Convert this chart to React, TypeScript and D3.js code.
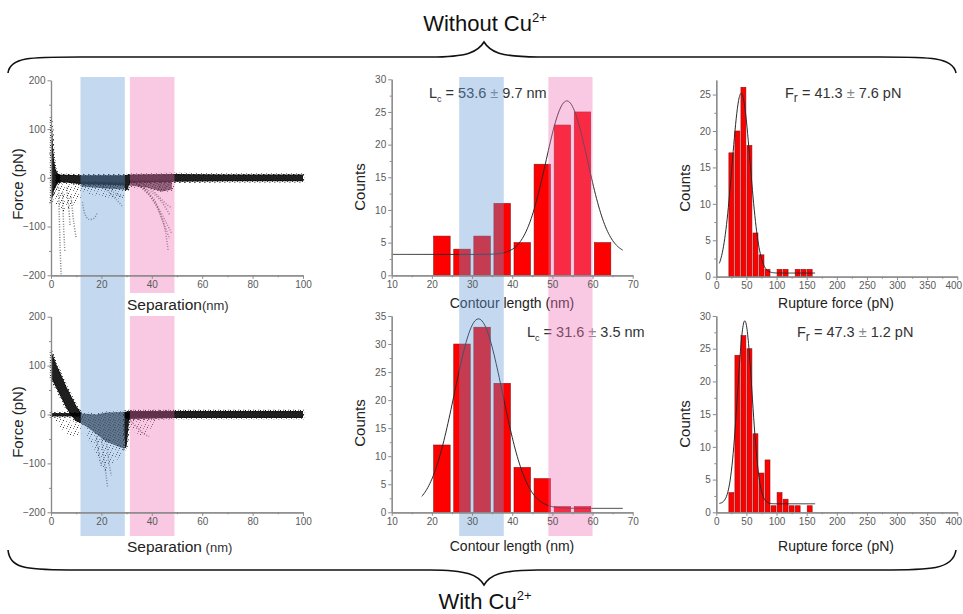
import React, { useEffect, useRef } from 'react';
import * as d3 from 'd3';

type Pt = [number, number];

// contour length histograms (bin starts, nm)
const contourBins = [20, 25, 30, 35, 40, 45, 50, 55, 60];
const contourNoCu = [6, 4, 6, 11, 5, 17, 23, 25, 5];
const contourCu = [12, 30, 33, 23, 8, 6, 1, 1, 0];

// rupture force histograms (bin starts, pN)
const ruptureBins = [20, 30, 40, 50, 60, 70, 80, 90, 100, 110, 120, 130, 140, 150];
const ruptureNoCu = [17, 20, 26, 18, 6, 3, 1, 0, 1, 1, 0, 1, 1, 1];
const ruptureCu = [3, 24, 27, 25, 12, 6, 8, 1, 3, 2, 1, 1, 0, 1];

// gaussian fits: centre, width, height, offset, start, end
const fitContourNoCu = [53.6, 5.2, 23.5, 3.2, 10, 67.5];
const fitContourCu = [31.6, 6, 33.8, 0.7, 17.5, 67.5];
const fitRuptureNoCu = [41.3, 15, 24.7, 0.5, 5, 164];
const fitRuptureCu = [47.3, 12, 28, 1.3, 5, 164];

// shaded windows
const sepBlue = [11.7, 29.3];
const sepPink = [31.3, 49];
const lcBlue = [26.8, 37.9];
const lcPink = [49, 60];

// force curves without Cu (separation nm, force pN)
const noCuDense: Pt[][] = [
  [[0, 125], [0.4, 105], [0.8, 62], [1.2, 36], [1.8, 18], [2.6, 10], [3.5, 6], [3.5, -7], [2.2, -16], [1.2, -26], [0.4, -45], [0, -55]],
  [[2, 7], [12, 5], [29, 5], [31, 7], [49, 8], [70, 7], [100, 7], [100, -7], [70, -7], [49, -8], [31, -10], [30.6, -24], [29.5, -26], [29, -16], [22, -14], [12, -13], [5, -9], [2, -9]],
];
const noCuCloud: Pt[][] = [
  [[12, -8], [29, -10], [29, -24], [22, -22], [12, -18]],
  [[31, -6], [48, -6], [48, -24], [44, -28], [38, -20], [31, -16]],
];
const noCuSparse: Pt[][] = [
  [[1, -8], [12, -10], [12, -42], [9, -55], [5, -70], [2, -55], [1, -30]],
  [[12, -10], [29, -14], [29, -48], [24, -42], [20, -38], [16, -35], [12, -30]],
  [[31, -8], [49, -6], [49, -28], [45, -32], [40, -24], [35, -22], [31, -20]],
];
const noCuTraces: Pt[][] = [
  [[3, -20], [3.3, -80], [3.6, -140], [4, -198]],
  [[4.6, -30], [5, -100], [5.5, -150]],
  [[6.2, -20], [7, -60], [7.6, -100]],
  [[8, -40], [9, -90], [10, -125]],
  [[12.5, -50], [13.5, -75], [15, -85], [17, -83], [18.5, -70]],
  [[18, -10], [22, -25], [26, -45], [28.5, -60]],
  [[20, -8], [25, -30], [28.5, -40]],
  [[31, -5], [36, -12], [40, -25], [43, -40], [46, -55], [48, -62]],
  [[32, -8], [37, -22], [41, -45], [43, -70], [45, -100], [46.5, -150]],
  [[33, -10], [38, -30], [42, -60], [44.5, -90], [47, -125]],
  [[34, -12], [39, -35], [43, -65], [46, -95], [48, -115]],
  [[35, -15], [40, -30], [44, -50], [47, -75]],
];

// force curves with Cu
const cuDense: Pt[][] = [
  [[0, 130], [1, 118], [2, 104], [4, 82], [6, 58], [8, 38], [10, 18], [12, 3], [12, -18], [10, -14], [8, -2], [6, 14], [4, 35], [2, 55], [0, 75]],
  [[0, 3], [12, 3], [12, -4], [0, -4]],
  [[29, 5], [31, 7], [49, 7], [70, 7], [100, 7], [100, -7], [70, -7], [49, -7], [31, -9], [29, -6]],
  [[29, 4], [31, 4], [31, -10], [30.5, -40], [30, -66], [29.2, -70], [29, -40]],
];
const cuCloud: Pt[][] = [
  [[12, 2], [18, 0], [22, 4], [29, 5], [29, -70], [27, -66], [24, -60], [21, -52], [18, -40], [15, -28], [12, -18]],
  [[31, 6], [49, 6], [49, -6], [31, -6]],
];
const cuSparse: Pt[][] = [
  [[2, -5], [12, -18], [12, -40], [8, -45], [4, -30], [2, -18]],
  [[14, -28], [29, -68], [27, -90], [24, -100], [22, -120], [20, -105], [17, -70], [14, -45]],
  [[31, -6], [42, -8], [40, -30], [36, -44], [33, -36], [31, -20]],
];
const cuTraces: Pt[][] = [
  [[20, -50], [21, -90], [22, -130], [22.5, -150]],
  [[22, -50], [23, -100], [24, -125]],
  [[18, -45], [19, -80], [20, -105]],
  [[31, -10], [34, -25], [37, -40], [39, -45]],
];

const W = 963;
const H = 614;
const FONT = 'Arial, "Liberation Sans", sans-serif';
const BLUE = 'rgba(100,155,215,0.38)';
const PINK = 'rgba(240,110,180,0.38)';

const range = (a, b, s) => d3.range(a, b + s / 2, s);

function drawAxes(g, x, y, xMaj, xMin, yMaj, yMin) {
  const y0 = y.range()[0];
  const x0 = x.range()[0];
  const style = (s) => {
    s.select('.domain').attr('stroke', '#8a8a8a').attr('stroke-width', 1.2);
    s.selectAll('line').attr('stroke', '#8a8a8a');
    s.selectAll('text').attr('fill', '#5a5a5a').attr('font-size', 10).attr('font-family', FONT);
  };
  g.append('g').attr('transform', `translate(0,${y0})`)
    .call(d3.axisBottom(x).tickValues(xMin).tickSize(2).tickSizeOuter(0).tickFormat(() => ''))
    .call(style);
  const xa = g.append('g').attr('transform', `translate(0,${y0})`)
    .call(d3.axisBottom(x).tickValues(xMaj).tickSize(3.5).tickSizeOuter(0).tickPadding(2))
    .call(style);
  // keep the right-most label inside the page
  xa.selectAll('.tick text').filter(function () {
    return x.range()[1] > 950 && this.textContent === String(x.domain()[1]);
  }).attr('dx', -4);
  g.append('g').attr('transform', `translate(${x0},0)`)
    .call(d3.axisLeft(y).tickValues(yMin).tickSize(2).tickSizeOuter(0).tickFormat(() => ''))
    .call(style);
  g.append('g').attr('transform', `translate(${x0},0)`)
    .call(d3.axisLeft(y).tickValues(yMaj).tickSize(3.5).tickSizeOuter(0).tickPadding(2))
    .call(style);
}

function drawBands(g, x, bands, top, bottom) {
  bands.forEach(([b, color]) => {
    g.append('rect')
      .attr('x', x(b[0])).attr('width', x(b[1]) - x(b[0]))
      .attr('y', top).attr('height', bottom - top)
      .attr('fill', color);
  });
}

function forceCurves(g, x, y, dense, cloud, sparse, traces) {
  const closed = d3.line<Pt>().x(d => x(d[0])).y(d => y(d[1])).curve(d3.curveLinearClosed);
  const open = d3.line<Pt>().x(d => x(d[0])).y(d => y(d[1])).curve(d3.curveCatmullRom);
  g.append('g').selectAll('path').data(sparse).join('path')
    .attr('d', closed).attr('fill', 'url(#speckle)');
  g.append('g').selectAll('path').data(traces).join('path')
    .attr('d', open).attr('fill', 'none').attr('stroke', '#000')
    .attr('stroke-width', 1.5).attr('stroke-dasharray', '1 1.6').attr('opacity', 0.5);
  const cl = g.append('g').selectAll('g').data(cloud).join('g');
  cl.append('path').attr('d', closed).attr('fill', '#000').attr('fill-opacity', 0.62)
    .attr('stroke', 'url(#speckle)').attr('stroke-width', 3);
  cl.append('path').attr('d', closed).attr('fill', 'url(#speckleDense)').attr('opacity', 0.6);
  g.append('g').selectAll('path').data(dense).join('path')
    .attr('d', closed).attr('fill', '#000').attr('fill-opacity', 0.88)
    .attr('stroke', 'url(#speckleDense)').attr('stroke-width', 2.5);
}

function histogram(g, x, y, bins, counts, binW) {
  g.append('g').selectAll('rect').data(bins).join('rect')
    .attr('x', (d) => x(d + binW * 0.09))
    .attr('width', (d) => x(d + binW * 0.91) - x(d + binW * 0.09))
    .attr('y', (d, i) => y(counts[i]))
    .attr('height', (d, i) => y(0) - y(counts[i]))
    .attr('fill', '#ff0000')
    .attr('stroke', '#8b1010').attr('stroke-width', 0.6)
    .attr('display', (d, i) => (counts[i] > 0 ? null : 'none'));
}

function fitCurve(g, x, y, fit, step) {
  const [c, w, a, b, from, to] = fit;
  const pts = d3.range(from, to + step / 2, step).map(v => [v, b + a * Math.exp(-((v - c) ** 2) / (2 * w * w))]);
  g.append('path')
    .attr('d', d3.line().x(d => x(d[0])).y(d => y(d[1])).curve(d3.curveBasis)(pts))
    .attr('fill', 'none').attr('stroke', '#2a2a2a').attr('stroke-width', 1);
}

function fitLabel(g, px, py, sym, sub, value) {
  const t = g.append('text').attr('x', px).attr('y', py)
    .attr('font-family', FONT).attr('font-size', 14.5).attr('fill', '#333');
  t.append('tspan').text(sym);
  t.append('tspan').attr('font-size', sub === 'c' ? 9 : 12).attr('dy', 4).text(sub);
  t.append('tspan').attr('dy', -4).text(` = ${value[0]} `);
  t.append('tspan').attr('fill', '#888').text('±');
  t.append('tspan').text(` ${value[1]} ${value[2]}`);
}

function vLabel(g, px, py, text, size) {
  g.append('text').attr('transform', `translate(${px},${py}) rotate(-90)`)
    .attr('text-anchor', 'middle').attr('font-family', FONT).attr('font-size', size)
    .attr('fill', '#222').text(text);
}

function hLabel(g, px, py, text, size) {
  g.append('text').attr('x', px).attr('y', py).attr('text-anchor', 'middle')
    .attr('font-family', FONT).attr('font-size', size).attr('fill', '#222').text(text);
}

function dotPattern(defs, id, size, dots) {
  const p = defs.append('pattern').attr('id', id)
    .attr('width', size).attr('height', size).attr('patternUnits', 'userSpaceOnUse');
  dots.forEach(([dx, dy, o]) => {
    p.append('rect').attr('x', dx).attr('y', dy).attr('width', 1).attr('height', 1)
      .attr('fill', '#000').attr('opacity', o);
  });
}

function draw(svg) {
  const defs = svg.append('defs');
  dotPattern(defs, 'speckle', 7, [[0, 0, 0.8], [3, 1, 0.5], [5, 4, 0.7], [1, 5, 0.45], [4, 6, 0.6], [6, 2, 0.35]]);
  dotPattern(defs, 'speckleDense', 5, [[0, 0, 0.9], [2, 1, 0.7], [4, 2, 0.8], [1, 3, 0.6], [3, 4, 0.85], [0, 2, 0.5], [3, 0, 0.5], [4, 4, 0.4]]);

  svg.append('rect').attr('width', W).attr('height', H).attr('fill', '#fff');

  // ---------- separation panels ----------
  const sx = d3.scaleLinear().domain([0, 100]).range([51, 303]);
  const syTop = d3.scaleLinear().domain([-200, 200]).range([275.3, 80.3]);
  const syBot = d3.scaleLinear().domain([-200, 200]).range([512.3, 316.7]);

  const gL = svg.append('g');
  forceCurves(gL, sx, syTop, noCuDense, noCuCloud, noCuSparse, noCuTraces);
  forceCurves(gL, sx, syBot, cuDense, cuCloud, cuSparse, cuTraces);
  drawBands(gL, sx, [[sepBlue, BLUE], [sepPink, PINK]], 77, 536);
  drawAxes(gL, sx, syTop, range(0, 100, 20), range(10, 90, 20), range(-200, 200, 100), range(-150, 150, 100));
  drawAxes(gL, sx, syBot, range(0, 100, 20), range(10, 90, 20), range(-200, 200, 100), range(-150, 150, 100));
  vLabel(gL, 23, 184, 'Force (pN)', 15);
  vLabel(gL, 23, 422, 'Force (pN)', 15);

  [310, 552].forEach((yy, i) => {
    if (i === 0) gL.append('rect').attr('x', 126).attr('y', 293).attr('width', 120).attr('height', 23).attr('fill', '#fff');
    const t = gL.append('text').attr('x', 127).attr('y', yy).attr('font-family', FONT).attr('fill', '#222');
    t.append('tspan').attr('font-size', 15.5).text('Separation');
    t.append('tspan').attr('font-size', 13).attr('fill', '#333').text(i === 0 ? '(nm)' : ' (nm)');
  });

  // ---------- contour length panels ----------
  const cx = d3.scaleLinear().domain([10, 70]).range([391.7, 632.7]);
  const cyTop = d3.scaleLinear().domain([0, 30]).range([275.3, 79.3]);
  const cyBot = d3.scaleLinear().domain([0, 35]).range([512.3, 316]);

  const gM = svg.append('g');
  histogram(gM, cx, cyTop, contourBins, contourNoCu, 5);
  histogram(gM, cx, cyBot, contourBins, contourCu, 5);
  fitCurve(gM, cx, cyTop, fitContourNoCu, 0.25);
  fitCurve(gM, cx, cyBot, fitContourCu, 0.25);
  fitLabel(gM, 429, 98, 'L', 'c', ['53.6', '9.7', 'nm']);
  fitLabel(gM, 527, 337, 'L', 'c', ['31.6', '3.5', 'nm']);
  hLabel(gM, 512, 308, 'Contour length (nm)', 14);
  hLabel(gM, 512, 551, 'Contour length (nm)', 14);
  drawBands(gM, cx, [[lcBlue, BLUE], [lcPink, PINK]], 77, 536);
  drawAxes(gM, cx, cyTop, range(10, 70, 10), range(15, 65, 10), range(0, 30, 5), range(2.5, 27.5, 5));
  drawAxes(gM, cx, cyBot, range(10, 70, 10), range(15, 65, 10), range(0, 35, 5), range(2.5, 32.5, 5));
  vLabel(gM, 365, 187, 'Counts', 15);
  vLabel(gM, 365, 423, 'Counts', 15);

  // ---------- rupture force panels ----------
  const rx = d3.scaleLinear().domain([0, 400]).range([716.3, 957.3]);
  const ryTop = d3.scaleLinear().domain([0, 27]).range([276.7, 80]);
  const ryBot = d3.scaleLinear().domain([0, 30]).range([512.3, 316]);

  const gR = svg.append('g');
  histogram(gR, rx, ryTop, ruptureBins, ruptureNoCu, 10);
  histogram(gR, rx, ryBot, ruptureBins, ruptureCu, 10);
  fitCurve(gR, rx, ryTop, fitRuptureNoCu, 1);
  fitCurve(gR, rx, ryBot, fitRuptureCu, 1);
  fitLabel(gR, 785, 98, 'F', 'r', ['41.3', '7.6', 'pN']);
  fitLabel(gR, 797, 337, 'F', 'r', ['47.3', '1.2', 'pN']);
  drawAxes(gR, rx, ryTop, range(0, 400, 50), range(25, 375, 50), range(0, 25, 5), range(2.5, 22.5, 5));
  drawAxes(gR, rx, ryBot, range(0, 400, 50), range(25, 375, 50), range(0, 30, 5), range(2.5, 27.5, 5));
  vLabel(gR, 690, 188, 'Counts', 15);
  vLabel(gR, 690, 424, 'Counts', 15);
  hLabel(gR, 836, 308, 'Rupture force (pN)', 14);
  hLabel(gR, 836, 551, 'Rupture force (pN)', 14);

  // ---------- braces and titles ----------
  const brace = (yEnd, yFlat, yTip) =>
    `M8,${yEnd} C10,${yFlat} 30,${yFlat} 80,${yFlat} L430,${yFlat} C468,${yFlat} 478,${(yFlat + yTip) / 2 + (yFlat - yTip) * 0.15} 484,${yTip}` +
    ` C490,${(yFlat + yTip) / 2 + (yFlat - yTip) * 0.15} 500,${yFlat} 538,${yFlat} L880,${yFlat} C930,${yFlat} 953,${yFlat} 956,${yEnd}`;
  svg.append('path').attr('d', brace(73, 57, 42)).attr('fill', 'none').attr('stroke', '#111').attr('stroke-width', 1.6);
  svg.append('path').attr('d', brace(550, 570, 585)).attr('fill', 'none').attr('stroke', '#111').attr('stroke-width', 1.6);

  const title = (yy, label) => {
    const t = svg.append('text').attr('x', 485).attr('y', yy).attr('text-anchor', 'middle')
      .attr('font-family', FONT).attr('font-size', 22).attr('fill', '#111');
    t.append('tspan').text(label);
    t.append('tspan').attr('font-size', 13).attr('dy', -9).text('2+');
  };
  title(31, 'Without Cu');
  title(609, 'With Cu');
}

export default function App() {
  const ref = useRef<SVGSVGElement>(null);
  useEffect(() => {
    const svg = d3.select(ref.current);
    svg.selectAll('*').remove();
    draw(svg);
  }, []);
  return (
    <svg ref={ref} width={W} height={H}
      style={{ position: 'absolute', left: 0, top: 0, display: 'block', background: '#fff' }} />
  );
}
